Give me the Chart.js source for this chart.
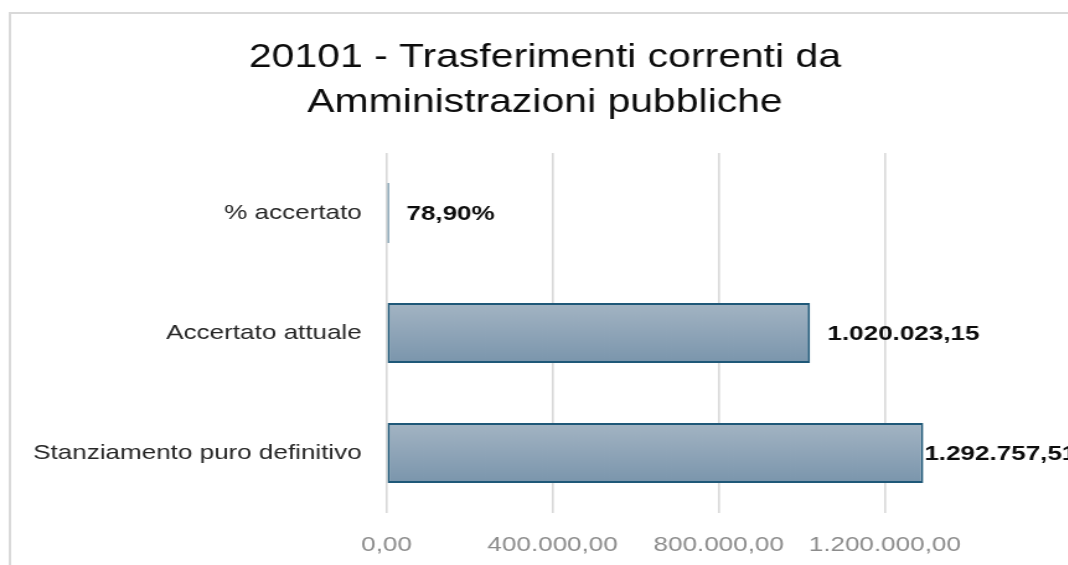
<!DOCTYPE html>
<html>
<head>
<meta charset="utf-8">
<script src="https://cdn.jsdelivr.net/npm/chart.js@4"></script>
<style>
  html, body { margin: 0; padding: 0; background: #ffffff; overflow: hidden; width: 1068px; height: 565px; }
  #wrap { position: absolute; left: 0; top: 0; width: 879px; height: 565px; transform: scaleX(1.24); transform-origin: 0 0; }
</style>
</head>
<body>
<div id="wrap"><canvas id="c" width="879" height="565"></canvas></div>
<script>
const titleLines = ['20101 - Trasferimenti correnti da', 'Amministrazioni pubbliche'];
const categories = ['% accertato', 'Accertato attuale', 'Stanziamento puro definitivo'];
const values = [0.789, 1020023.15, 1292757.51];
const valueFormats = ['percent', 'number', 'number'];
const xTickValues = [0, 400000, 800000, 1200000];
const xMax = 1400000;

function fmtIt(n, d) {
  const s = Math.abs(n).toFixed(d);
  let [i, f] = s.split('.');
  i = i.replace(/\B(?=(\d{3})+(?!\d))/g, '.');
  return (n < 0 ? '-' : '') + i + (d ? ',' + f : '');
}
function fmtValue(v, kind) {
  return kind === 'percent' ? fmtIt(v * 100, 2) + '%' : fmtIt(v, 2);
}

const FONT = "'Liberation Sans', Arial, sans-serif";
Chart.defaults.font.family = FONT;

const frame = {
  id: 'frame',
  beforeDraw(chart) {
    const ctx = chart.ctx;
    ctx.save();
    ctx.fillStyle = '#ffffff';
    ctx.fillRect(0, 0, chart.width, chart.height);
    ctx.strokeStyle = '#d9d9d9';
    ctx.lineWidth = 2;
    ctx.beginPath();
    ctx.moveTo(8, chart.height);
    ctx.lineTo(8, 13);
    ctx.lineTo(chart.width, 13);
    ctx.stroke();
    ctx.restore();
  }
};

const valueLabels = {
  id: 'valueLabels',
  afterDatasetsDraw(chart) {
    const ctx = chart.ctx;
    const meta = chart.getDatasetMeta(0);
    ctx.save();
    ctx.font = 'bold 21px ' + FONT;
    ctx.fillStyle = '#0d0d0d';
    ctx.textBaseline = 'middle';
    ctx.textAlign = 'left';
    meta.data.forEach((el, i) => {
      const txt = fmtValue(values[i], valueFormats[i]);
      const w = ctx.measureText(txt).width;
      const x = Math.min(el.x + 14, chart.width - w - 11);
      ctx.fillText(txt, x, el.y + 1);
    });
    ctx.restore();
  }
};

new Chart(document.getElementById('c'), {
  type: 'bar',
  data: {
    labels: categories,
    datasets: [{
      data: values,
      backgroundColor: (c) => {
        const chart = c.chart;
        const ys = chart.scales && chart.scales.y;
        if (!ys || !chart.chartArea || c.dataIndex === undefined) return '#8ea3b6';
        const cy = ys.getPixelForValue(c.dataIndex);
        const half = (ys.height / categories.length) * 0.5 / 2;
        const g = chart.ctx.createLinearGradient(0, cy - half, 0, cy + half);
        g.addColorStop(0, '#a3b4c3');
        g.addColorStop(1, '#7a95ac');
        return g;
      },
      borderColor: '#1f5878',
      borderWidth: 2,
      borderSkipped: false,
      minBarLength: 2,
      barPercentage: 0.5,
      categoryPercentage: 1
    }]
  },
  options: {
    indexAxis: 'y',
    responsive: false,
    animation: false,
    devicePixelRatio: 1,
    layout: { padding: 0 },
    plugins: {
      legend: { display: false },
      tooltip: { enabled: false },
      title: {
        display: true,
        text: titleLines,
        color: '#0d0d0d',
        font: { family: FONT, size: 33, weight: 'normal', lineHeight: 45 / 33 },
        padding: { top: 35, bottom: 28 }
      }
    },
    scales: {
      x: {
        min: 0,
        max: xMax,
        afterBuildTicks: (s) => { s.ticks = xTickValues.map(v => ({ value: v })); },
        afterFit: (s) => { s.height = 52; },
        grid: { color: '#d9d9d9', lineWidth: 1.6, drawTicks: false },
        border: { display: false },
        ticks: {
          autoSkip: false,
          maxRotation: 0,
          padding: 20,
          color: '#8c8c8c',
          font: { size: 21 },
          callback: (v) => fmtIt(v, 2)
        }
      },
      y: {
        grid: { display: false, drawTicks: false },
        border: { display: false },
        afterFit: (s) => { s.width = 311.7; },
        ticks: {
          padding: 20,
          color: '#262626',
          font: { size: 21 }
        }
      },
      y2: {
        type: 'category',
        position: 'right',
        labels: categories,
        grid: { display: false, drawTicks: false },
        border: { display: false },
        ticks: { display: false },
        afterFit: (s) => { s.width = 98.5; }
      }
    }
  },
  plugins: [frame, valueLabels]
});
</script>
</body>
</html>
